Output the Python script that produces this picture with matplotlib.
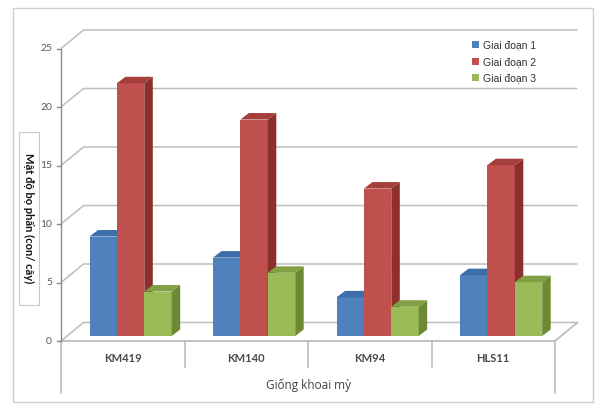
import matplotlib
matplotlib.use("Agg")
import matplotlib.pyplot as plt
from matplotlib.patches import Polygon, Rectangle

# ---- data -------------------------------------------------------------
categories = ["KM419", "KM140", "KM94", "HLS11"]
series_names = ["Giai đoạn 1", "Giai đoạn 2", "Giai đoạn 3"]
stage1 = [8.5, 6.7, 3.3, 5.2]
stage2 = [21.6, 18.5, 12.6, 14.6]
stage3 = [3.8, 5.4, 2.5, 4.6]
y_ticks = [0, 5, 10, 15, 20, 25]
x_title = "Giống khoai mỳ"
y_title = "Mật độ bọ phấn (con/ cây)"

# ---- styling ----------------------------------------------------------
front_cols = ["#4F81BD", "#C0504D", "#9BBB59"]
side_cols = ["#36609A", "#8C2F2D", "#6C8A34"]
top_cols = ["#3E6EAA", "#A53F3C", "#81A044"]
grid_col = "#BDBDBD"
axis_col = "#8C8C8C"

W, H, DPI = 596, 404, 100
fig = plt.figure(figsize=(W / DPI, H / DPI), dpi=DPI)
ax = fig.add_axes([0, 0, 1, 1])
ax.set_axis_off()

# pixel geometry of the pseudo-3D frame
X0, CW = 61.0, 123.5      # left edge of category axis, width of one category
Y0, S = 341.0, 11.7       # pixel row of value 0, pixels per unit
ax.set_xlim((0 - X0) / CW, (W - X0) / CW)
ax.set_ylim((Y0 - H) / S, Y0 / S)


def px_x(p):
    return p / CW


def px_y(p):
    return p / S


n_cat = len(categories)
wdx, wdy = px_x(22.5), px_y(18.5)          # wall depth
bdx, bdy = px_x(8.5), px_y(6.5)            # bar depth
bw = px_x(27.4)                            # bar width
g_off = px_x(28.5)                         # first bar offset inside category
base = px_y(5.0)                           # bar base above floor front edge

# walls: gridlines on the left wall and back wall
for t in y_ticks:
    ax.plot([0, wdx, n_cat + wdx], [t, t + wdy, t + wdy],
            color=grid_col, lw=1.1, zorder=1, solid_capstyle="butt")
# floor outline
ax.plot([0, n_cat, n_cat + wdx], [0, 0, wdy], color=grid_col, lw=1.3, zorder=1)
# value axis line and ticks
ax.plot([0, 0], [0, y_ticks[-1]], color=axis_col, lw=1.0, zorder=2)
for t in y_ticks:
    ax.plot([px_x(-4), 0], [t, t], color=axis_col, lw=1.0, zorder=2)
    ax.text(px_x(-9), t, str(t), ha="right", va="center", fontsize=7.5,
            color="#595959", family=["Lato", "DejaVu Sans"])

# category axis (two-level table below the floor)
for i in range(n_cat + 1):
    low = px_y(-52) if i in (0, n_cat) else px_y(-26)
    ax.plot([i, i], [0, low], color=grid_col, lw=1.2, zorder=1)
for i, c in enumerate(categories):
    ax.text(i + 0.5, px_y(-17), c, ha="center", va="center", fontsize=8,
            fontweight="bold", color="#4A4A4A", family=["Lato", "DejaVu Sans"])
ax.text(n_cat / 2, px_y(-44), x_title, ha="center", va="center", fontsize=8.5,
        color="#404040", family=["Open Sans", "DejaVu Sans"])

# bars with side and top faces
series = [stage1, stage2, stage3]
handles = []
for i in range(n_cat):
    for k, vals in enumerate(series):
        v = vals[i]
        x = i + g_off + k * bw
        z = 3 + i * 3 + k
        b = ax.bar(x, v, width=bw, bottom=base, align="edge",
                   color=front_cols[k], lw=0, zorder=z)
        if i == 0:
            handles.append(b)
        side = Polygon([(x + bw, base), (x + bw + bdx, base + bdy),
                        (x + bw + bdx, base + v + bdy), (x + bw, base + v)],
                       closed=True, facecolor=side_cols[k], lw=0, zorder=z)
        top = Polygon([(x, base + v), (x + bdx, base + v + bdy),
                       (x + bw + bdx, base + v + bdy), (x + bw, base + v)],
                      closed=True, facecolor=top_cols[k], lw=0, zorder=z)
        ax.add_patch(side)
        ax.add_patch(top)

# legend
leg = fig.legend(handles, series_names, loc="upper left",
                 bbox_to_anchor=(465 / W, 1 - 33 / H), frameon=False,
                 handlelength=0.65, handleheight=0.65,
                 handletextpad=0.4, labelspacing=0.62, borderpad=0.2,
                 prop={"family": ["Liberation Sans", "DejaVu Sans"], "size": 7.5})
for t in leg.get_texts():
    t.set_color("#333333")

# value axis title inside its own framed box
fig.patches.append(Rectangle((19 / W, 1 - 305 / H), 20 / W, 173 / H,
                             transform=fig.transFigure, fc="white",
                             ec="#C8C8C8", lw=0.8))
fig.text(29 / W, 1 - 218 / H, y_title, rotation=-90, ha="center", va="center",
         fontsize=8, fontweight="bold", color="#111111",
         family=["Lato", "DejaVu Sans"])

# outer chart border
fig.patches.append(Rectangle((13 / W, 1 - 402 / H), 580 / W, 394 / H,
                             transform=fig.transFigure, fill=False,
                             ec="#D0D0D0", lw=1.0))

fig.savefig("out.png", dpi=DPI, facecolor="white")
